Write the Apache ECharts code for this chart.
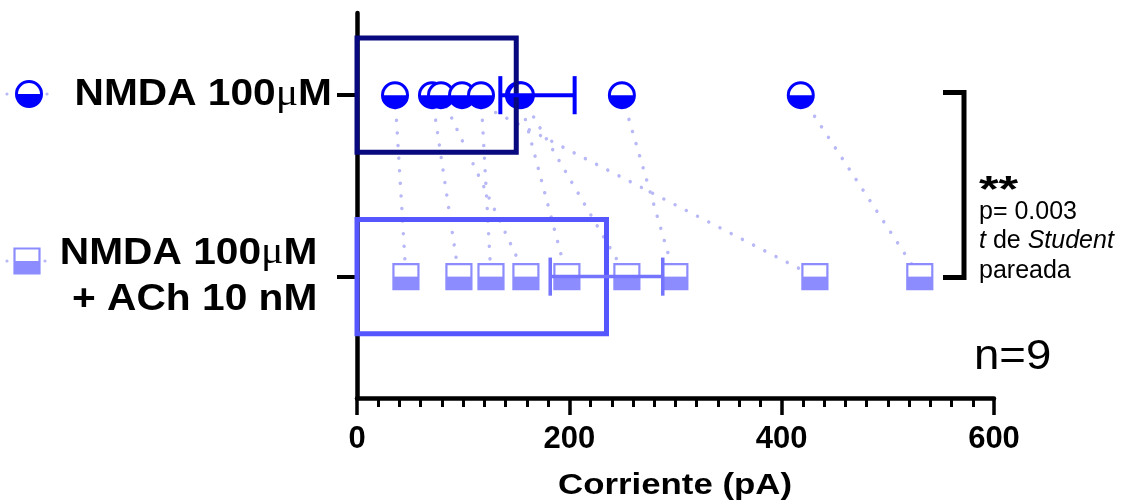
<!DOCTYPE html>
<html>
<head>
<meta charset="utf-8">
<script src="https://cdn.jsdelivr.net/npm/echarts@6/dist/echarts.min.js"></script>
<style>
  html, body { margin: 0; padding: 0; background: #fff; }
  #chart { width: 1123px; height: 503px; }
</style>
</head>
<body>
<div id="chart"></div>
<script>
// Groups (rows, top to bottom)
const groups = ['NMDA 100μM', 'NMDA 100μM\n+ ACh 10 nM'];
// Paired recordings: same cell in each position
const nmda    = [35.8, 70.6, 79.1, 98.9, 116.8, 152.5, 154.4, 249.5, 418.0];
const nmdaAch = [46.1, 96.0, 159.1, 431.3, 126.2, 197.7, 254.2, 299.4, 530.1];
// Bar (mean) and error bar limits per group
const means   = [150, 235];
const errLow  = [135, 182];
const errHigh = [205, 288];
// X axis
const xTicks = [0, 200, 400, 600];
const xTitle = 'Corriente (pA)';
// Statistics annotation
const statStars = '**';
const statP = 'p= 0.003';
const statTest = ['t', ' de ', 'Student'];
const statPaired = 'pareada';
const nLabel = 'n=9';

const C_CIRCLE = '#0000ff';
const C_SQUARE = '#8c8cff';
const C_BAR1 = '#08087f';
const C_BAR2 = '#5656ff';
const C_ERR2 = '#7474ff';
const C_PAIR = '#b8b8f6';

const FONT = '"Liberation Sans", Arial, sans-serif';

// Group name -> rich text, with the micro sign in a serif face
function richLabel(name, lastStyle) {
  return name.split('\n').map(function (ln) {
    const parts = ln.split('μ');
    let s = '';
    parts.forEach(function (p, i) {
      if (i > 0) s += '{mu|μ}';
      if (p) s += '{' + (i === parts.length - 1 ? lastStyle : 'b') + '|' + p + '}';
    });
    return s;
  }).join('\n');
}

const chart = echarts.init(document.getElementById('chart'), null, { renderer: 'canvas' });

// Paired connections
const pairData = nmda.map(function (v, i) { return [v, nmdaAch[i]]; });
// Individual points
const pointData = [];
nmda.forEach(function (v) { pointData.push([v, 0]); });
nmdaAch.forEach(function (v) { pointData.push([v, 1]); });
const barData = means.map(function (m, i) { return [m, i]; });
const errData = errLow.map(function (lo, i) { return [lo, errHigh[i], i]; });
const labelData = groups.map(function (g, i) { return [0, i]; });

function circleMarker(cx, cy) {
  const r = 12.5;
  return {
    type: 'group',
    children: [
      { type: 'circle', shape: { cx: cx, cy: cy, r: r }, style: { fill: '#fff', stroke: null } },
      { type: 'sector', shape: { cx: cx, cy: cy, r0: 0, r: r, startAngle: 0, endAngle: Math.PI, clockwise: true },
        style: { fill: C_CIRCLE } },
      { type: 'circle', shape: { cx: cx, cy: cy, r: r }, style: { fill: null, stroke: C_CIRCLE, lineWidth: 3 } }
    ]
  };
}
function squareMarker(cx, cy) {
  const h = 12.5;
  return {
    type: 'group',
    children: [
      { type: 'rect', shape: { x: cx - h, y: cy - h, width: 2 * h, height: 2 * h }, style: { fill: '#fff' } },
      { type: 'rect', shape: { x: cx - h, y: cy, width: 2 * h, height: h }, style: { fill: C_SQUARE } },
      { type: 'rect', shape: { x: cx - h, y: cy - h, width: 2 * h, height: 2 * h },
        style: { fill: null, stroke: C_SQUARE, lineWidth: 2.2 } }
    ]
  };
}

const option = {
  animation: false,
  backgroundColor: '#fff',
  grid: { left: 357, right: 129, top: 13, bottom: 105, containLabel: false, outerBoundsMode: 'none' },
  xAxis: {
    type: 'value',
    min: 0, max: 600, interval: 200,
    axisLine: { show: true, onZero: false, lineStyle: { color: '#000', width: 4.5 } },
    axisTick: { show: true, length: 17, lineStyle: { color: '#000', width: 3.5 } },
    minorTick: { show: true, splitNumber: 10, length: 9, lineStyle: { color: '#000', width: 3 } },
    splitLine: { show: false },
    axisLabel: {
      margin: 26,
      fontFamily: FONT, fontWeight: 'bold', fontSize: 31, color: '#000',
      formatter: function (v) { return String(v); }
    }
  },
  yAxis: {
    type: 'value',
    inverse: true,
    min: -0.453, max: 1.669,
    axisLine: { show: true, onZero: false, lineStyle: { color: '#000', width: 4.5 } },
    splitLine: { show: false },
    axisTick: { show: true, customValues: [0, 1], length: 20, lineStyle: { color: '#000', width: 4 } },
    axisLabel: { show: false }
  },
  series: [
    {
      // dotted lines joining each cell's two recordings
      type: 'custom',
      z: 1,
      data: pairData,
      renderItem: function (params, api) {
        const a = api.coord([api.value(0), 0]);
        const b = api.coord([api.value(1), 1]);
        return {
          type: 'line',
          shape: { x1: a[0], y1: a[1], x2: b[0], y2: b[1] },
          style: { stroke: C_PAIR, lineWidth: 3.5, lineDash: [0.01, 12.6], lineCap: 'round', fill: null }
        };
      }
    },
    {
      // individual values
      type: 'custom',
      z: 2,
      data: pointData,
      renderItem: function (params, api) {
        const p = api.coord([api.value(0), api.value(1)]);
        return api.value(1) === 0 ? circleMarker(p[0], p[1]) : squareMarker(p[0], p[1]);
      }
    },
    {
      // mean bars (outline only)
      type: 'custom',
      z: 3,
      data: barData,
      renderItem: function (params, api) {
        const row = api.value(1);
        const p0 = api.coord([0, row]);
        const p1 = api.coord([api.value(0), row]);
        const h = api.size([0, 1])[1] * 0.63;
        return {
          type: 'rect',
          shape: { x: p0[0], y: p0[1] - h / 2, width: p1[0] - p0[0], height: h },
          style: { fill: null, stroke: row === 0 ? C_BAR1 : C_BAR2, lineWidth: 5 }
        };
      }
    },
    {
      // error bars
      type: 'custom',
      z: 4,
      data: errData,
      renderItem: function (params, api) {
        const row = api.value(2);
        const lo = api.coord([api.value(0), row]);
        const hi = api.coord([api.value(1), row]);
        const cap = api.size([0, 1])[1] * 0.105;
        const col = row === 0 ? C_CIRCLE : C_ERR2;
        const w = row === 0 ? 4 : 3.5;
        return {
          type: 'group',
          children: [
            { type: 'line', shape: { x1: lo[0], y1: lo[1], x2: hi[0], y2: hi[1] }, style: { stroke: col, lineWidth: w } },
            { type: 'line', shape: { x1: lo[0], y1: lo[1] - cap, x2: lo[0], y2: lo[1] + cap }, style: { stroke: col, lineWidth: w } },
            { type: 'line', shape: { x1: hi[0], y1: hi[1] - cap, x2: hi[0], y2: hi[1] + cap }, style: { stroke: col, lineWidth: w } }
          ]
        };
      }
    },
    {
      // group names beside the category ticks
      type: 'custom',
      z: 5,
      clip: false,
      data: labelData,
      renderItem: function (params, api) {
        const row = api.value(1);
        const p = api.coord([0, row]);
        return {
          type: 'text',
          x: p[0] - 25,
          y: p[1],
          scaleX: 1.13,
          style: {
            text: richLabel(groups[row], row === 0 ? 'b' : 'bp'),
            align: 'right',
            verticalAlign: 'middle',
            rich: {
              b: { fontFamily: FONT, fontWeight: 'bold', fontSize: 36, fill: '#000', lineHeight: 46 },
              bp: { fontFamily: FONT, fontWeight: 'bold', fontSize: 36, fill: '#000', lineHeight: 46, padding: [0, 13, 0, 0] },
              mu: { fontFamily: '"Liberation Serif", "DejaVu Serif", serif', fontSize: 37, fill: '#000', lineHeight: 46 }
            }
          }
        };
      }
    }
  ],
  graphic: [
    // legend keys beside the group names
    { type: 'circle', shape: { cx: 7, cy: 94, r: 1.6 }, style: { fill: C_PAIR } },
    { type: 'circle', shape: { cx: 47, cy: 94, r: 1.6 }, style: { fill: C_PAIR } },
    circleMarker(29, 94),
    { type: 'circle', shape: { cx: 7, cy: 261, r: 1.6 }, style: { fill: C_PAIR } },
    { type: 'circle', shape: { cx: 45, cy: 261, r: 1.6 }, style: { fill: C_PAIR } },
    squareMarker(27, 261),
    // x axis title
    {
      type: 'text', x: 675, y: 486, scaleX: 1.2,
      style: { text: xTitle, font: 'bold 29px ' + FONT, fill: '#000', align: 'center', verticalAlign: 'middle' }
    },
    // significance bracket
    {
      type: 'polyline',
      shape: { points: [[943, 92.5], [964, 92.5], [964, 277.5], [943, 277.5]] },
      style: { stroke: '#000', lineWidth: 5, fill: null }
    },
    {
      type: 'text', x: 979, y: 174, scaleX: 1.4,
      style: { text: statStars, font: 'bold 36px ' + FONT, fill: '#000' }
    },
    {
      type: 'text', left: 979, top: 200,
      style: { text: statP, font: '25px ' + FONT, fill: '#000' }
    },
    {
      type: 'text', left: 979, top: 229,
      style: {
        text: '{i|' + statTest[0] + '}{r|' + statTest[1] + '}{i|' + statTest[2] + '}',
        rich: {
          i: { font: 'italic 25px ' + FONT, fill: '#000' },
          r: { font: '25px ' + FONT, fill: '#000' }
        }
      }
    },
    {
      type: 'text', left: 979, top: 259,
      style: { text: statPaired, font: '25px ' + FONT, fill: '#000' }
    },
    {
      type: 'text', x: 974, y: 336, scaleX: 1.06,
      style: { text: nLabel, font: '43px ' + FONT, fill: '#000' }
    }
  ]
};

chart.setOption(option);
</script>
</body>
</html>
